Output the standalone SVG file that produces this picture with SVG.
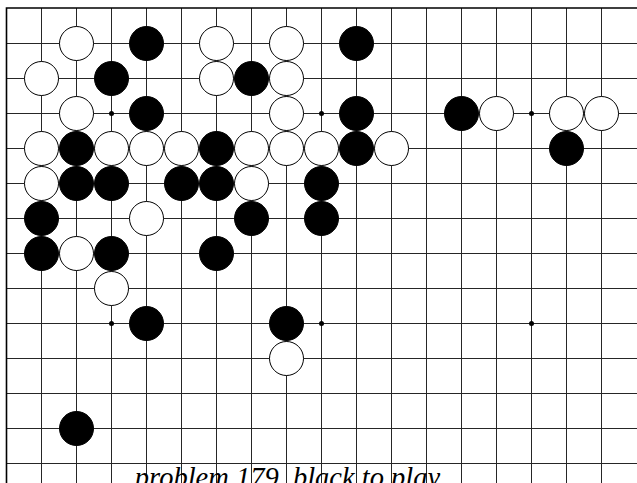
<svg xmlns="http://www.w3.org/2000/svg" width="637" height="483" viewBox="0 0 637 483">
<style>
.g{stroke:#262626;stroke-width:1;fill:none}
.e{stroke:#000;stroke-width:1.6;fill:none}
.b{fill:#000;stroke:#000;stroke-width:1}
.w{fill:#fff;stroke:#000;stroke-width:1}
.h{fill:#000}
.t{font-family:"Liberation Serif",serif;font-style:italic;font-size:28.5px;fill:#000}
</style>
<rect width="637" height="483" fill="#fff"/>
<g id="grid">
<path class="g" d="M41.5 8V483M76.5 8V483M111.5 8V483M146.5 8V483M181.5 8V483M216.5 8V483M251.5 8V483M286.5 8V483M321.5 8V483M356.5 8V483M391.5 8V483M426.5 8V483M461.5 8V483M496.5 8V483M531.5 8V483M566.5 8V483M601.5 8V483"/>
<path class="g" d="M6.5 43.5H637M6.5 78.5H637M6.5 113.5H637M6.5 148.5H637M6.5 183.5H637M6.5 218.5H637M6.5 253.5H637M6.5 288.5H637M6.5 323.5H637M6.5 358.5H637M6.5 393.5H637M6.5 428.5H637M6.5 463.5H637"/>
<path class="e" d="M6.5 483V8H637"/>
<circle class="h" cx="111.5" cy="113.5" r="2.5"/>
<circle class="h" cx="321.5" cy="113.5" r="2.5"/>
<circle class="h" cx="531.5" cy="113.5" r="2.5"/>
<circle class="h" cx="111.5" cy="323.5" r="2.5"/>
<circle class="h" cx="321.5" cy="323.5" r="2.5"/>
<circle class="h" cx="531.5" cy="323.5" r="2.5"/>
</g>
<g id="stones">
<!-- row 1 -->
<circle class="w" cx="76.5" cy="43.5" r="17"/>
<circle class="b" cx="146.5" cy="43.5" r="17"/>
<circle class="w" cx="216.5" cy="43.5" r="17"/>
<circle class="w" cx="286.5" cy="43.5" r="17"/>
<circle class="b" cx="356.5" cy="43.5" r="17"/>
<!-- row 2 -->
<circle class="w" cx="41.5" cy="78.5" r="17"/>
<circle class="b" cx="111.5" cy="78.5" r="17"/>
<circle class="w" cx="216.5" cy="78.5" r="17"/>
<circle class="b" cx="251.5" cy="78.5" r="17"/>
<circle class="w" cx="286.5" cy="78.5" r="17"/>
<!-- row 3 -->
<circle class="w" cx="76.5" cy="113.5" r="17"/>
<circle class="b" cx="146.5" cy="113.5" r="17"/>
<circle class="w" cx="286.5" cy="113.5" r="17"/>
<circle class="b" cx="356.5" cy="113.5" r="17"/>
<circle class="b" cx="461.5" cy="113.5" r="17"/>
<circle class="w" cx="496.5" cy="113.5" r="17"/>
<circle class="w" cx="566.5" cy="113.5" r="17"/>
<circle class="w" cx="601.5" cy="113.5" r="17"/>
<!-- row 4 -->
<circle class="w" cx="41.5" cy="148.5" r="17"/>
<circle class="b" cx="76.5" cy="148.5" r="17"/>
<circle class="w" cx="111.5" cy="148.5" r="17"/>
<circle class="w" cx="146.5" cy="148.5" r="17"/>
<circle class="w" cx="181.5" cy="148.5" r="17"/>
<circle class="b" cx="216.5" cy="148.5" r="17"/>
<circle class="w" cx="251.5" cy="148.5" r="17"/>
<circle class="w" cx="286.5" cy="148.5" r="17"/>
<circle class="w" cx="321.5" cy="148.5" r="17"/>
<circle class="b" cx="356.5" cy="148.5" r="17"/>
<circle class="w" cx="391.5" cy="148.5" r="17"/>
<circle class="b" cx="566.5" cy="148.5" r="17"/>
<!-- row 5 -->
<circle class="w" cx="41.5" cy="183.5" r="17"/>
<circle class="b" cx="76.5" cy="183.5" r="17"/>
<circle class="b" cx="111.5" cy="183.5" r="17"/>
<circle class="b" cx="181.5" cy="183.5" r="17"/>
<circle class="b" cx="216.5" cy="183.5" r="17"/>
<circle class="w" cx="251.5" cy="183.5" r="17"/>
<circle class="b" cx="321.5" cy="183.5" r="17"/>
<!-- row 6 -->
<circle class="b" cx="41.5" cy="218.5" r="17"/>
<circle class="w" cx="146.5" cy="218.5" r="17"/>
<circle class="b" cx="251.5" cy="218.5" r="17"/>
<circle class="b" cx="321.5" cy="218.5" r="17"/>
<!-- row 7 -->
<circle class="b" cx="41.5" cy="253.5" r="17"/>
<circle class="w" cx="76.5" cy="253.5" r="17"/>
<circle class="b" cx="111.5" cy="253.5" r="17"/>
<circle class="b" cx="216.5" cy="253.5" r="17"/>
<!-- row 8 -->
<circle class="w" cx="111.5" cy="288.5" r="17"/>
<!-- row 9 -->
<circle class="b" cx="146.5" cy="323.5" r="17"/>
<circle class="b" cx="286.5" cy="323.5" r="17"/>
<!-- row 10 -->
<circle class="w" cx="286.5" cy="358.5" r="17"/>
<!-- row 12 -->
<circle class="b" cx="76.5" cy="428.5" r="17"/>
</g>
<text class="t" x="287.5" y="486.5" text-anchor="middle">problem 179, black to play</text>
</svg>
